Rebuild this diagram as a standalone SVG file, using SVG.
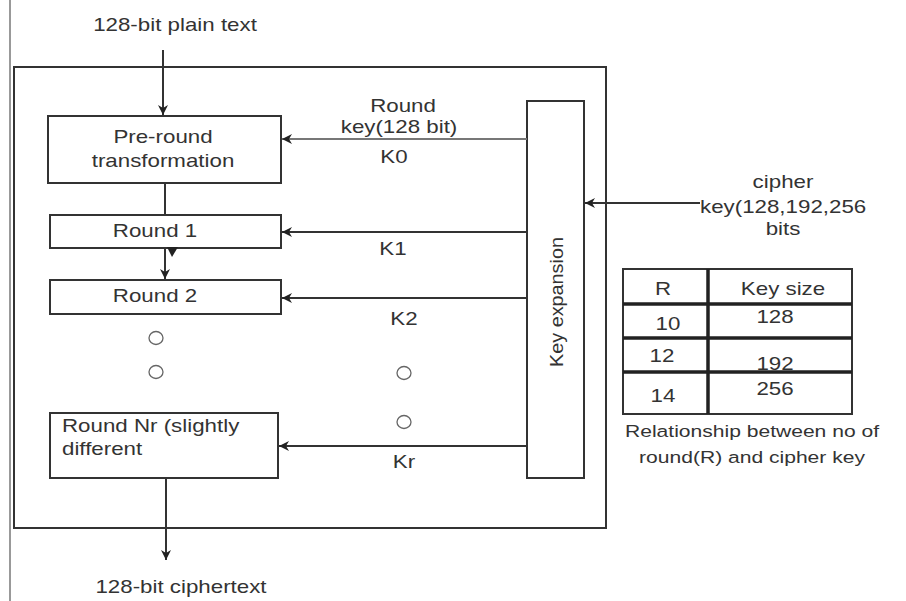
<svg xmlns="http://www.w3.org/2000/svg" width="906" height="601" viewBox="0 0 906 601">
<defs>
<marker id="ah" viewBox="0 0 10 10" refX="10" refY="5" markerWidth="10" markerHeight="10" markerUnits="userSpaceOnUse" orient="auto">
<path d="M0,0 L10,5 L0,10 L3,5 z" fill="#222"/>
</marker>
<style>
text{font-family:"Liberation Sans",Arial,sans-serif;font-size:18px;fill:#333}
.m{text-anchor:middle}
.box{fill:#fff;stroke:#333;stroke-width:2}
.ln{stroke:#333;stroke-width:2;fill:none}
.c{fill:none;stroke:#666;stroke-width:1.3}
.th{stroke:#222;stroke-width:3.5}
</style>
</defs>
<rect width="906" height="601" fill="#fff"/>
<line x1="10" y1="0" x2="10" y2="601" stroke="#999" stroke-width="2"/>
<rect id="frame" x="14" y="67" width="592" height="461" fill="none" stroke="#333" stroke-width="2"/>

<g id="plain"><text class="m" transform="translate(175,31) scale(1.24,1)">128-bit plain text</text></g>
<g id="preround"><rect class="box" x="48" y="116" width="233" height="67"/>
<text class="m" transform="translate(163,143) scale(1.24,1)">Pre-round</text>
<text class="m" transform="translate(163,167) scale(1.24,1)">transformation</text></g>
<g id="round1"><rect class="box" x="50" y="215" width="231" height="33"/>
<text class="m" transform="translate(155,237) scale(1.24,1)">Round 1</text></g>
<g id="round2"><rect class="box" x="50" y="280" width="231" height="34"/>
<text class="m" transform="translate(155,302) scale(1.24,1)">Round 2</text></g>
<g id="roundnr"><rect class="box" x="50" y="413" width="228" height="65"/>
<text transform="translate(62,432) scale(1.24,1)">Round Nr (slightly</text>
<text transform="translate(62,455) scale(1.24,1)">different</text></g>
<g id="keyexp"><rect class="box" x="527" y="101" width="57" height="377"/>
<text class="m" transform="translate(563,302) rotate(-90) scale(1.1,1)">Key expansion</text></g>
<g id="cipher"><text class="m" transform="translate(783,235) scale(1.24,1)">bits</text>
<text class="m" transform="translate(783,188) scale(1.24,1)">cipher</text>
<text transform="translate(700,213) scale(1.24,1)">key(128,192,256</text></g>
<g id="ciphertext"><text class="m" transform="translate(181,593) scale(1.24,1)">128-bit ciphertext</text></g>

<g id="dots">
<ellipse class="c" cx="156" cy="338" rx="7" ry="6.5"/>
<ellipse class="c" cx="156" cy="372" rx="7" ry="6.5"/>
<ellipse class="c" cx="404" cy="373" rx="7" ry="6.5"/>
<ellipse class="c" cx="404" cy="422" rx="7" ry="6.5"/>
</g>

<g id="connectors">
<line class="ln" x1="163" y1="50" x2="163" y2="115" marker-end="url(#ah)"/>
<line class="ln" x1="165" y1="183" x2="165" y2="215"/>
<line class="ln" x1="165" y1="248" x2="165" y2="279" marker-end="url(#ah)"/>
<path d="M167,247 L178,247 L172,257 z" fill="#222"/>
<line class="ln" x1="166" y1="478" x2="166" y2="560" marker-end="url(#ah)"/>
<line x1="527" y1="139" x2="282" y2="139" stroke="#777" stroke-width="2.2" marker-end="url(#ah)"/>
<line class="ln" x1="527" y1="232" x2="282" y2="232" marker-end="url(#ah)"/>
<line class="ln" x1="527" y1="298" x2="282" y2="298" marker-end="url(#ah)"/>
<line class="ln" x1="527" y1="446" x2="279" y2="446" marker-end="url(#ah)"/>
<line class="ln" x1="700" y1="203" x2="585" y2="203" marker-end="url(#ah)"/>
<text class="m" transform="translate(403,112) scale(1.24,1)">Round</text>
<text class="m" transform="translate(399,133) scale(1.24,1)">key(128 bit)</text>
<text class="m" transform="translate(394,163) scale(1.24,1)">K0</text>
<text class="m" transform="translate(393,255) scale(1.24,1)">K1</text>
<text class="m" transform="translate(404,325) scale(1.24,1)">K2</text>
<text class="m" transform="translate(404,468) scale(1.24,1)">Kr</text>
</g>

<g id="table">
<text class="m" transform="translate(775,370) scale(1.24,1)">192</text>
<rect x="623" y="269" width="229" height="145" fill="none" stroke="#333" stroke-width="2"/>
<line class="th" x1="708" y1="269" x2="708" y2="414"/>
<line class="th" x1="623" y1="304" x2="852" y2="304"/>
<line class="th" x1="623" y1="338" x2="852" y2="338"/>
<line class="th" x1="623" y1="372" x2="852" y2="372"/>
<text class="m" transform="translate(663,295) scale(1.24,1)">R</text>
<text class="m" transform="translate(783,295) scale(1.24,1)">Key size</text>
<text class="m" transform="translate(668,330) scale(1.24,1)">10</text>
<text class="m" transform="translate(775,323) scale(1.24,1)">128</text>
<text class="m" transform="translate(662,362) scale(1.24,1)">12</text>
<text class="m" transform="translate(663,402) scale(1.24,1)">14</text>
<text class="m" transform="translate(775,395) scale(1.24,1)">256</text>
<text class="m" style="font-size:17px" transform="translate(752,437) scale(1.24,1)">Relationship between no of</text>
<text class="m" style="font-size:17px" transform="translate(752,463) scale(1.24,1)">round(R) and cipher key</text>
</g>
</svg>
